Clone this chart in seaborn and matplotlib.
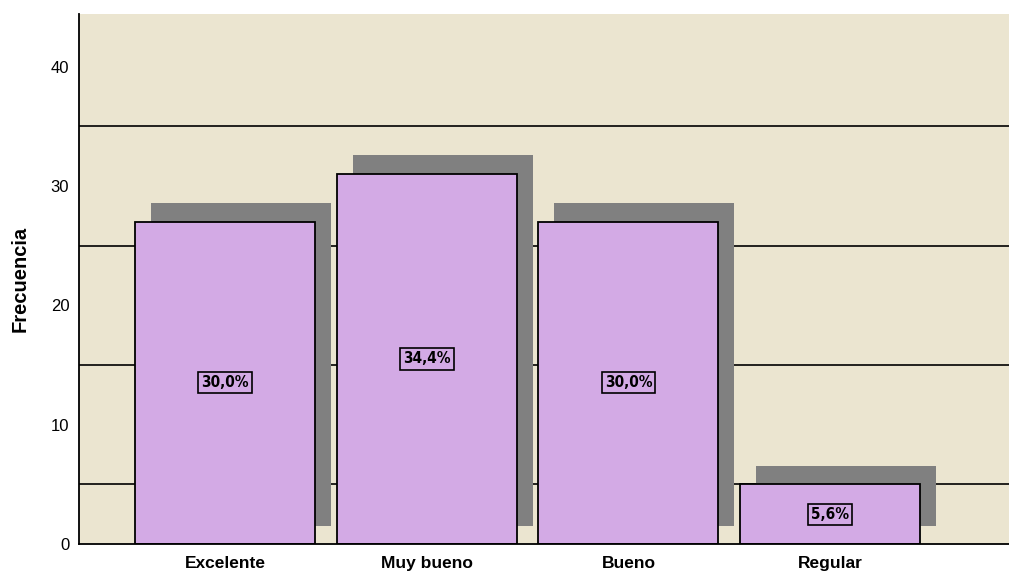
import matplotlib
matplotlib.use("Agg")
import matplotlib.pyplot as plt
import matplotlib.transforms as mtransforms
from matplotlib.ticker import FixedLocator
import seaborn as sns
import pandas as pd

categorias = ["Excelente", "Muy bueno", "Bueno", "Regular"]
frecuencias = [27, 31, 27, 5]
porcentajes = ["30,0%", "34,4%", "30,0%", "5,6%"]
y_ticks = [0, 10, 20, 30, 40]
lineas_guia = [5, 15, 25, 35]

fondo = "#EBE5D0"
morado = "#D3AAE5"
sombra = "#808080"

df = pd.DataFrame({"categoria": categorias, "frecuencia": frecuencias})

sns.set_style("white")
plt.rcParams["font.family"] = ["Liberation Sans", "DejaVu Sans"]
plt.rcParams["text.color"] = "black"
plt.rcParams["axes.labelcolor"] = "black"
plt.rcParams["xtick.color"] = "black"
plt.rcParams["ytick.color"] = "black"

fig = plt.figure(figsize=(10.09, 5.73), dpi=100)
ax = fig.add_axes([79 / 1009, 29 / 573, 930 / 1009, 530 / 573])
ax.set_facecolor(fondo)

# Drop shadow: same bars, shifted right and up in screen space
sns.barplot(data=df, x="categoria", y="frecuencia", order=categorias,
            color=sombra, saturation=1, width=0.892, linewidth=0, ax=ax)
shadow_patches = list(ax.patches)
offset = mtransforms.offset_copy(ax.transData, fig=fig, x=16, y=18.5, units="dots")
for p in shadow_patches:
    p.set_transform(offset)

# Main bars
sns.barplot(data=df, x="categoria", y="frecuencia", order=categorias,
            color=morado, saturation=1, width=0.892, edgecolor="black",
            linewidth=1.3, ax=ax)
main_patches = ax.patches[len(shadow_patches):]

for p, txt in zip(main_patches, porcentajes):
    cx = p.get_x() + p.get_width() / 2
    cy = p.get_height() / 2
    ax.text(cx, cy, txt, ha="center", va="center", fontsize=11,
            fontweight="bold", family="DejaVu Sans", fontstretch="condensed",
            color="black",
            bbox=dict(boxstyle="square,pad=0.2", facecolor=morado,
                      edgecolor="black", linewidth=1.2), zorder=5)

ax.set_xlim(-0.724, 3.887)
ax.set_ylim(0, 44.4)
ax.set_yticks(y_ticks)
ax.yaxis.set_minor_locator(FixedLocator(lineas_guia))
ax.set_axisbelow(True)
ax.grid(False)
ax.grid(which="minor", axis="y", color="black", linewidth=1.2)
ax.tick_params(axis="both", which="both", length=0)
ax.tick_params(axis="y", labelsize=12, pad=7)
ax.tick_params(axis="x", pad=17.5)
for lab in ax.get_xticklabels():
    lab.set_fontweight("bold")
    lab.set_fontsize(12.5)
    lab.set_verticalalignment("baseline")

ax.set_xlabel("")
ax.set_ylabel("Frecuencia", fontsize=14.5, fontweight="bold", labelpad=15)

for side in ["top", "right"]:
    ax.spines[side].set_visible(False)
for side in ["left", "bottom"]:
    ax.spines[side].set_color("black")
    ax.spines[side].set_linewidth(1.3)

fig.savefig("out.png", dpi=100, facecolor="white")
